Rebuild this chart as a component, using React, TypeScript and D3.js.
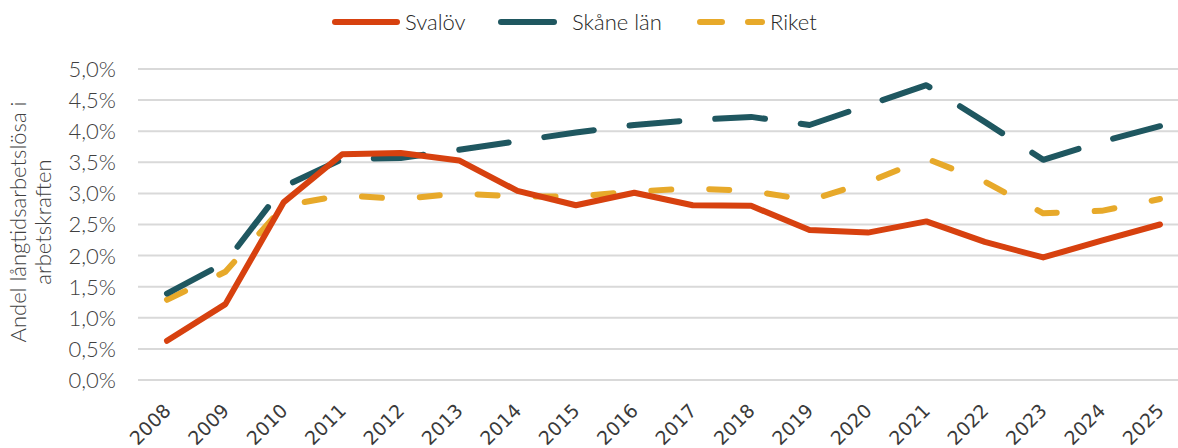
import * as d3 from "d3";
import React from "react";

const years = [
  "2008", "2009", "2010", "2011", "2012", "2013", "2014", "2015", "2016",
  "2017", "2018", "2019", "2020", "2021", "2022", "2023", "2024", "2025",
];

const svalov = [0.63, 1.22, 2.86, 3.63, 3.65, 3.53, 3.04, 2.81, 3.01, 2.81, 2.8, 2.41, 2.37, 2.55, 2.22, 1.97, 2.24, 2.5];
const skane = [1.39, 1.89, 3.11, 3.55, 3.57, 3.7, 3.84, 3.98, 4.1, 4.18, 4.23, 4.1, 4.42, 4.74, 4.15, 3.54, 3.83, 4.08];
const riket = [1.29, 1.74, 2.8, 2.97, 2.91, 3.0, 2.95, 2.95, 3.03, 3.08, 3.04, 2.89, 3.18, 3.56, 3.19, 2.68, 2.72, 2.91];

const yTicks = [0, 0.5, 1, 1.5, 2, 2.5, 3, 3.5, 4, 4.5, 5];

const seriesNames = ["Svalöv", "Skåne län", "Riket"];

const width = 1178;
const height = 448;
const lightFont = "'Lato', 'Open Sans', sans-serif";

const App = () => {
  const x = d3.scalePoint<string>().domain(years).range([167, 1160]);
  const y = d3.scaleLinear().domain([0, 5]).range([380, 69]);

  const line = d3
    .line<number>()
    .x((_, i) => x(years[i]) ?? 0)
    .y((d) => y(d));

  const series = [
    { name: seriesNames[0], values: svalov, color: "#D7410F", dash: undefined },
    { name: seriesNames[1], values: skane, color: "#1F5760", dash: "50 36" },
    { name: seriesNames[2], values: riket, color: "#E7A92A", dash: "20 38" },
  ];

  // legend samples (layout only)
  const legend = [
    { x1: 335, x2: 397, tx: 405, dash: undefined },
    { x1: 501, x2: 554, tx: 572, dash: undefined },
    { x1: 700, x2: 762, tx: 770, dash: "22 26" },
  ];

  return (
    <svg
      width={width}
      height={height}
      style={{ position: "absolute", left: 0, top: 0, background: "#fff" }}
    >
      {/* gridlines */}
      {yTicks.map((t) => (
        <line
          key={t}
          x1={138}
          x2={width}
          y1={y(t)}
          y2={y(t)}
          stroke="#d9d9d9"
          strokeWidth={2}
        />
      ))}

      {/* y tick labels */}
      {yTicks.map((t) => (
        <text
          key={"l" + t}
          x={116}
          y={y(t)}
          dy="0.36em"
          textAnchor="end"
          fontFamily={lightFont}
          fontWeight={300}
          fontSize={22}
          fill="#404040"
        >
          {t.toFixed(1).replace(".", ",") + "%"}
        </text>
      ))}

      {/* y title */}
      <g transform="translate(0,222) rotate(-90)" fontFamily={lightFont} fontWeight={300} fontSize={22} fill="#404040" textAnchor="middle">
        <text x={0} y={26}>Andel långtidsarbetslösa i</text>
        <text x={0} y={51}>arbetskraften</text>
      </g>

      {/* x labels */}
      {years.map((yr) => (
        <text
          key={yr}
          transform={`translate(${(x(yr) ?? 0) + 5},412) rotate(-45)`}
          textAnchor="end"
          fontFamily="'DejaVu Sans', sans-serif"
          fontSize={19}
          fill="#3a3a3a"
        >
          {yr}
        </text>
      ))}

      {/* lines */}
      {series
        .slice()
        .reverse()
        .map((s) => (
          <path
            key={s.name}
            d={line(s.values) || undefined}
            fill="none"
            stroke={s.color}
            strokeWidth={6}
            strokeLinecap="round"
            strokeLinejoin="round"
            strokeDasharray={s.dash}
          />
        ))}

      {/* legend */}
      {series.map((s, i) => (
        <g key={"lg" + s.name}>
          <line
            x1={legend[i].x1}
            x2={legend[i].x2}
            y1={22}
            y2={22}
            stroke={s.color}
            strokeWidth={6}
            strokeLinecap="round"
            strokeDasharray={legend[i].dash}
          />
          <text
            x={legend[i].tx}
            y={22}
            dy="0.36em"
            fontFamily={lightFont}
            fontWeight={300}
            fontSize={22}
            fill="#262626"
          >
            {s.name}
          </text>
        </g>
      ))}
    </svg>
  );
};

export default App;
